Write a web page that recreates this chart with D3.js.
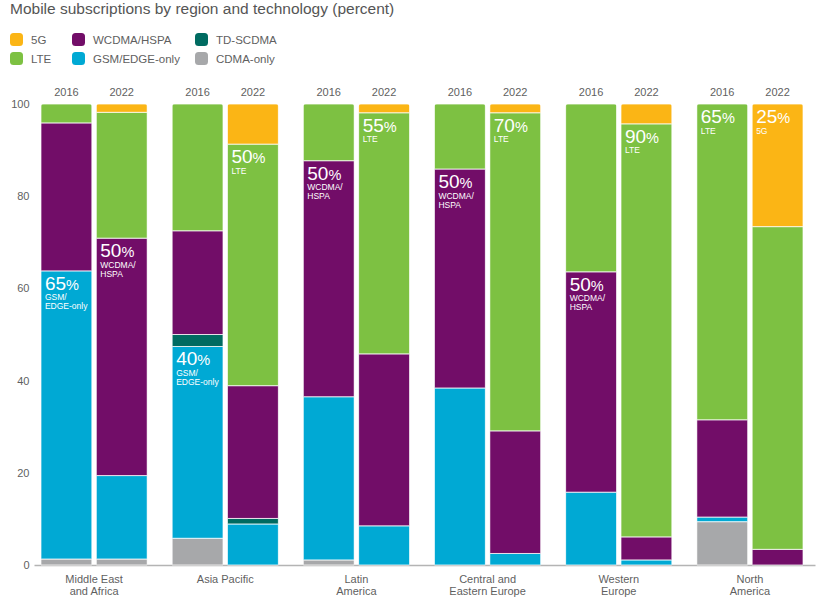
<!DOCTYPE html>
<html>
<head>
<meta charset="utf-8">
<script src="https://cdn.jsdelivr.net/npm/d3@7"></script>
<style>
  body { margin: 0; background: #fff; }
  svg { font-family: 'Liberation Sans', Arial, sans-serif; }
</style>
</head>
<body>
<svg id="chart" width="820" height="600"></svg>
<script>
// data
const regions = ['Middle East|and Africa', 'Asia Pacific', 'Latin|America', 'Central and|Eastern Europe', 'Western|Europe', 'North|America'];
const years = ['2016', '2022'];
const techKeys = ['cdma', 'gsm', 'td', 'wcdma', 'lte', 'g5'];
const techNames = ['CDMA-only', 'GSM/EDGE-only', 'TD-SCDMA', 'WCDMA/HSPA', 'LTE', '5G'];
const yTicks = [0, 20, 40, 60, 80, 100];

// one value per region/year column, in order MEA16, MEA22, AP16, AP22, ...
const cdma = [1.3, 1.3, 5.8, 0, 1.1, 0, 0, 0, 0, 0, 9.4, 0];
const gsm = [62.5, 18.1, 41.6, 8.9, 35.4, 8.5, 38.4, 2.5, 15.8, 1.1, 1.0, 0];
const td = [0, 0, 2.6, 1.2, 0, 0, 0, 0, 0, 0, 0, 0];
const wcdma = [32.1, 51.5, 22.5, 28.8, 51.2, 37.3, 47.5, 26.6, 47.8, 5.0, 21.1, 3.4];
const lte = [4.1, 27.3, 27.5, 52.4, 12.3, 52.3, 14.1, 69.0, 36.4, 89.6, 68.5, 70.0];
const g5 = [0, 1.8, 0, 8.7, 0, 1.9, 0, 1.9, 0, 4.3, 0, 26.6];

// callouts: column index, technology, share, label lines
const notes = [
  [0, 'gsm', '65', ['GSM/', 'EDGE-only']],
  [1, 'wcdma', '50', ['WCDMA/', 'HSPA']],
  [2, 'gsm', '40', ['GSM/', 'EDGE-only']],
  [3, 'lte', '50', ['LTE']],
  [4, 'wcdma', '50', ['WCDMA/', 'HSPA']],
  [5, 'lte', '55', ['LTE']],
  [6, 'wcdma', '50', ['WCDMA/', 'HSPA']],
  [7, 'lte', '70', ['LTE']],
  [8, 'wcdma', '50', ['WCDMA/', 'HSPA']],
  [9, 'lte', '90', ['LTE']],
  [10, 'lte', '65', ['LTE']],
  [11, 'g5', '25', ['5G']],
];

// colors
const COLORS = {
  g5: '#FBB515',
  lte: '#7DC142',
  wcdma: '#720D68',
  gsm: '#00A9D4',
  td: '#006B61',
  cdma: '#A7A8AA',
};
const TEXT_COLOR = '#5f5f5f';

// legend layout (column order as in the reference)
const legendOrder = [['g5', 'lte'], ['wcdma', 'gsm'], ['td', 'cdma']];
const legendX = [10, 72, 195];

// build rows for the stack
const series = { cdma, gsm, td, wcdma, lte, g5 };
const rows = [];
regions.forEach((r, ri) => {
  years.forEach((yr, yi) => {
    const i = ri * 2 + yi;
    const row = { region: r, year: yr, idx: i };
    techKeys.forEach((k) => { row[k] = series[k][i]; });
    rows.push(row);
  });
});
const stacked = d3.stack().keys(techKeys)(rows);

// dimensions
const $svg = d3.select('#chart');
const MARGIN_LEFT = 28.5;
const MARGIN_RIGHT = 4.5;
const PLOT_TOP = 104;
const PLOT_BOTTOM = 565;
const width = 820;

// scales
const scaleRegion = d3.scaleBand()
  .domain(regions)
  .range([MARGIN_LEFT, width - MARGIN_RIGHT])
  .paddingInner(0.19)
  .paddingOuter(0.095);
const scaleYear = d3.scaleBand()
  .domain(years)
  .range([0, scaleRegion.bandwidth()])
  .paddingInner(0.08);
const scaleY = d3.scaleLinear().domain([0, 100]).range([PLOT_BOTTOM, PLOT_TOP]);

const colX = (d) => scaleRegion(d.region) + scaleYear(d.year);

// title
$svg.append('text')
  .attr('x', 10)
  .attr('y', 14)
  .attr('fill', '#555')
  .attr('font-size', 15.5)
  .text('Mobile subscriptions by region and technology (percent)');

// legend
const $legend = $svg.append('g').attr('class', 'legend');
legendOrder.forEach((col, ci) => {
  col.forEach((k, ri) => {
    const g = $legend.append('g')
      .attr('transform', `translate(${legendX[ci]}, ${33 + ri * 19})`);
    g.append('rect')
      .attr('width', 13).attr('height', 13).attr('rx', 3.5)
      .attr('fill', COLORS[k]);
    g.append('text')
      .attr('x', 21).attr('y', 10.5)
      .attr('font-size', 11.5)
      .attr('fill', TEXT_COLOR)
      .text(techNames[techKeys.indexOf(k)]);
  });
});

// y axis
$svg.append('g')
  .attr('transform', `translate(${MARGIN_LEFT + 1}, 0)`)
  .call(d3.axisLeft(scaleY).tickValues(yTicks).tickSize(0).tickPadding(0))
  .call((g) => g.select('.domain').remove())
  .call((g) => g.selectAll('.tick text')
    .attr('font-size', 11)
    .attr('font-family', 'Liberation Sans, Arial, sans-serif')
    .attr('fill', TEXT_COLOR));

// x axis with region names
$svg.append('g')
  .attr('transform', `translate(0, ${PLOT_BOTTOM + 0.5})`)
  .call(d3.axisBottom(scaleRegion).tickSize(0).tickSizeOuter(0).tickPadding(9.5))
  .call((g) => g.select('.domain')
    .attr('stroke', '#b4b4b4')
    .attr('stroke-width', 1.6)
    .attr('d', `M${MARGIN_LEFT + 6},0H${width - MARGIN_RIGHT}`))
  .call((g) => g.selectAll('.tick text')
    .attr('font-size', 11)
    .attr('font-family', 'Liberation Sans, Arial, sans-serif')
    .attr('fill', TEXT_COLOR)
    .attr('dy', 0)
    .text(null)
    .each(function (d) {
      const t = d3.select(this);
      d.split('|').forEach((line, i) => {
        t.append('tspan').attr('x', 0).attr('dy', i === 0 ? '0.71em' : 12.5).text(line);
      });
    }));

// year labels
$svg.append('g')
  .selectAll('text')
  .data(rows)
  .join('text')
  .attr('x', (d) => colX(d) + scaleYear.bandwidth() / 2)
  .attr('y', 96)
  .attr('text-anchor', 'middle')
  .attr('font-size', 11)
  .attr('fill', TEXT_COLOR)
  .text((d) => d.year);

// clip paths to round the top of each bar
const $defs = $svg.append('defs');
$defs.selectAll('clipPath')
  .data(rows)
  .join('clipPath')
  .attr('id', (d) => `clip-${d.idx}`)
  .append('rect')
  .attr('x', (d) => colX(d))
  .attr('y', scaleY(100))
  .attr('width', scaleYear.bandwidth())
  .attr('height', PLOT_BOTTOM - scaleY(100) + 6)
  .attr('rx', 3);

// bars
const $vis = $svg.append('g').attr('class', 'g-vis');
const $cols = $vis.selectAll('.col')
  .data(rows)
  .join('g')
  .attr('class', 'col')
  .attr('clip-path', (d) => `url(#clip-${d.idx})`);

$cols.each(function (row) {
  const segs = stacked
    .map((s) => ({ key: s.key, v: s[row.idx] }))
    .filter((s) => s.v[1] - s.v[0] > 0);
  d3.select(this)
    .selectAll('rect')
    .data(segs)
    .join('rect')
    .attr('x', colX(row))
    .attr('width', scaleYear.bandwidth())
    .attr('y', (d) => scaleY(d.v[1]))
    .attr('height', (d) => scaleY(d.v[0]) - scaleY(d.v[1]))
    .attr('fill', (d) => COLORS[d.key])
    .attr('stroke', '#fff')
    .attr('stroke-opacity', 0.75)
    .attr('stroke-width', 1);
});

// callouts
const $notes = $svg.append('g').attr('class', 'notes');
notes.forEach(([idx, key, pct, lines]) => {
  const row = rows[idx];
  const top = scaleY(stacked[techKeys.indexOf(key)][idx][1]);
  const x = colX(row) + 4;
  const big = $notes.append('text')
    .attr('x', x)
    .attr('y', top + 19)
    .attr('fill', '#fff')
    .attr('font-size', 19);
  big.append('tspan').text(pct);
  big.append('tspan').attr('font-size', 14.5).text('%');
  lines.forEach((line, i) => {
    $notes.append('text')
      .attr('x', x)
      .attr('y', top + 29.5 + i * 9)
      .attr('fill', '#fff')
      .attr('font-size', 8.5)
      .text(line);
  });
});
</script>
</body>
</html>
